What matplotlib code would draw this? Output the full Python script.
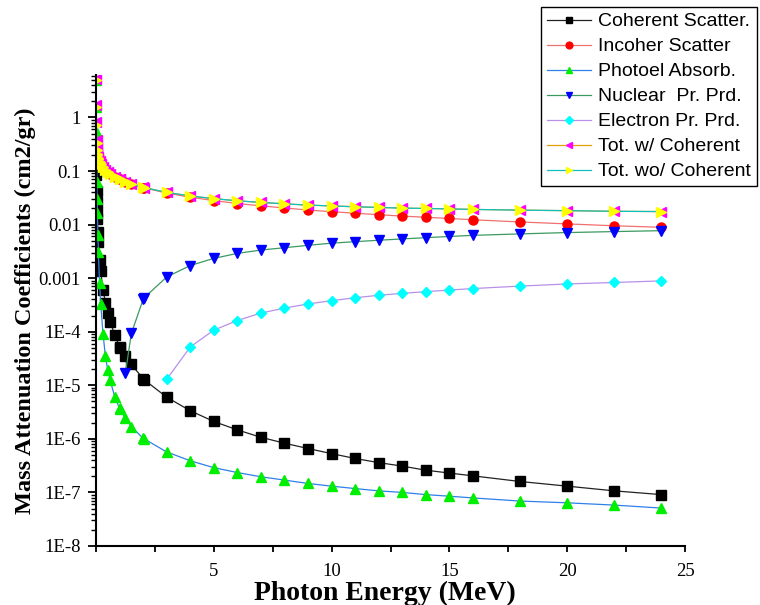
import numpy as np
import matplotlib
matplotlib.use("Agg")
from matplotlib import pyplot as plt
from matplotlib.ticker import FixedLocator, FuncFormatter, LogLocator, MultipleLocator, NullFormatter

nan = np.nan

# photon energies (MeV)
energy = [0.01, 0.015, 0.02, 0.03, 0.04, 0.05, 0.06, 0.08, 0.1, 0.15,
          0.2, 0.3, 0.4, 0.5, 0.6, 0.8, 1.0, 1.022, 1.25, 1.5,
          2.0, 2.044, 3, 4, 5, 6, 7, 8, 9, 10,
          11, 12, 13, 14, 15, 16, 18, 20, 22, 24]

# mass attenuation coefficients (cm2/gr)
coherent = [0.25, 0.135, 0.085, 0.043, 0.026, 0.0175, 0.0125, 0.0073, 0.0048, 0.0022,
            1.35e-3, 6.0e-4, 3.5e-4, 2.2e-4, 1.54e-4, 8.7e-5, 5.2e-5, 5.0e-5, 3.5e-5, 2.45e-5,
            1.33e-5, 1.27e-5, 6.0e-6, 3.35e-6, 2.11e-6, 1.47e-6, 1.07e-6, 8.3e-7, 6.6e-7, 5.3e-7,
            4.3e-7, 3.6e-7, 3.1e-7, 2.6e-7, 2.3e-7, 2.04e-7, 1.6e-7, 1.31e-7, 1.07e-7, 9.1e-8]
incoherent = [0.155, 0.168, 0.177, 0.184, 0.185, 0.182, 0.178, 0.171, 0.163, 0.148,
              0.1355, 0.118, 0.1057, 0.0967, 0.0894, 0.0786, 0.0706, 0.0698, 0.0632, 0.0575,
              0.0491, 0.0485, 0.0388, 0.0324, 0.0281, 0.0247, 0.0224, 0.0204, 0.0187, 0.0174,
              0.0163, 0.0153, 0.0144, 0.0137, 0.0130, 0.0123, 0.0112, 0.0103, 0.0095, 0.0089]
photoel = [4.9, 1.55, 0.56, 0.16, 0.062, 0.030, 0.0168, 0.0063, 0.0031, 8.0e-4,
           3.3e-4, 8.9e-5, 3.5e-5, 1.9e-5, 1.24e-5, 6.0e-6, 3.7e-6, 3.55e-6, 2.4e-6, 1.7e-6,
           1.02e-6, 1.0e-6, 5.7e-7, 3.9e-7, 2.9e-7, 2.35e-7, 1.96e-7, 1.7e-7, 1.47e-7, 1.31e-7,
           1.18e-7, 1.07e-7, 1.0e-7, 9.1e-8, 8.5e-8, 7.9e-8, 6.9e-8, 6.4e-8, 5.8e-8, 5.1e-8]
nuclear_pair = [nan, nan, nan, nan, nan, nan, nan, nan, nan, nan,
                nan, nan, nan, nan, nan, nan, nan, nan, 1.7e-5, 9.3e-5,
                4.0e-4, 4.3e-4, 1.05e-3, 1.72e-3, 2.34e-3, 2.9e-3, 3.35e-3, 3.7e-3, 4.1e-3, 4.5e-3,
                4.8e-3, 5.1e-3, 5.4e-3, 5.7e-3, 6.0e-3, 6.3e-3, 6.7e-3, 7.1e-3, 7.4e-3, 7.7e-3]
electron_pair = [nan, nan, nan, nan, nan, nan, nan, nan, nan, nan,
                 nan, nan, nan, nan, nan, nan, nan, nan, nan, nan,
                 nan, nan, 1.29e-5, 5.2e-5, 1.07e-4, 1.62e-4, 2.23e-4, 2.76e-4, 3.3e-4, 3.8e-4,
                 4.3e-4, 4.8e-4, 5.2e-4, 5.6e-4, 6.0e-4, 6.4e-4, 7.1e-4, 7.8e-4, 8.3e-4, 8.9e-4]
total_coh = [5.31, 1.69, 0.82, 0.38, 0.27, 0.228, 0.207, 0.185, 0.171, 0.151,
             0.137, 0.119, 0.106, 0.097, 0.0896, 0.0787, 0.0707, 0.0700, 0.0632, 0.0576,
             0.0495, 0.0490, 0.0399, 0.0342, 0.0305, 0.0278, 0.0259, 0.0244, 0.0231, 0.0223,
             0.0215, 0.0209, 0.0203, 0.0200, 0.0196, 0.0192, 0.0186, 0.0182, 0.0177, 0.0175]
total_nocoh = [5.06, 1.555, 0.735, 0.337, 0.244, 0.211, 0.195, 0.178, 0.166, 0.149,
               0.1356, 0.1184, 0.1057, 0.0968, 0.0894, 0.0786, 0.0706, 0.0699, 0.0632, 0.0576,
               0.0495, 0.0490, 0.0399, 0.0342, 0.0305, 0.0278, 0.0259, 0.0244, 0.0231, 0.0223,
               0.0215, 0.0209, 0.0203, 0.0200, 0.0196, 0.0192, 0.0186, 0.0182, 0.0177, 0.0175]

labels = ['Coherent Scatter.', 'Incoher Scatter', 'Photoel Absorb.', 'Nuclear  Pr. Prd.',
          'Electron Pr. Prd.', 'Tot. w/ Coherent', 'Tot. wo/ Coherent']

# (values, line colour, marker, marker colour)
series = [
    (coherent, '#222222', 's', 'black'),
    (incoherent, '#F07070', 'o', '#FF0000'),
    (photoel, '#2F80E8', '^', '#00EE00'),
    (nuclear_pair, '#3A9A60', 'v', '#0000FF'),
    (electron_pair, '#B890E8', 'D', '#00FFFF'),
    (total_coh, '#E0A000', '<', '#FF00FF'),
    (total_nocoh, '#10C0C0', '>', '#FFFF00'),
]

plt.rcParams['font.family'] = 'Liberation Serif'

fig = plt.figure(figsize=(7.6, 6.05), dpi=100)
ax = fig.add_axes([96 / 760, 1 - 546 / 605, (685 - 96) / 760, (546 - 75) / 605])

for (vals, lc, mk, mc), lab in zip(series, labels):
    ms = 5.5 if mk == 'D' else 6.5
    ax.plot(energy, vals, color=lc, lw=0.9, marker=mk, ms=ms,
            markerfacecolor=mc, markeredgecolor=mc, label=lab)

ax.set_yscale('log')
ax.set_xlim(0, 25)
ax.set_ylim(1e-8, 6.2)

# axis cosmetics
for side in ['top', 'right']:
    ax.spines[side].set_visible(False)
for side in ['left', 'bottom']:
    ax.spines[side].set_linewidth(1.5)

ax.xaxis.set_major_locator(FixedLocator([5, 10, 15, 20, 25]))
ax.xaxis.set_minor_locator(MultipleLocator(2.5))
ax.yaxis.set_major_locator(FixedLocator([10.0 ** k for k in range(-8, 1)]))
ax.yaxis.set_minor_locator(LogLocator(base=10, subs=np.arange(2, 10), numticks=20))
ax.yaxis.set_minor_formatter(NullFormatter())


def fmt_y(v, pos):
    k = int(round(np.log10(v)))
    if k >= -3:
        return '{:g}'.format(v)
    return '1E{}'.format(k)


ax.yaxis.set_major_formatter(FuncFormatter(fmt_y))

ax.tick_params(axis='both', which='major', direction='out', labelsize=13.5, width=1.3, color='black')
ax.tick_params(axis='x', which='major', length=4, pad=8)
ax.tick_params(axis='x', which='minor', length=4, width=1.3)
ax.tick_params(axis='y', which='major', length=6, pad=5)
ax.tick_params(axis='y', which='minor', length=3.5, width=1.0)

ax.set_xlabel('Photon Energy (MeV)', fontsize=20, fontweight='bold')
ax.xaxis.set_label_coords(0.49, -0.074)
ax.set_ylabel('Mass Attenuation Coefficients (cm2/gr)', fontsize=17.5, fontweight='bold', labelpad=2)

leg = ax.legend(loc='upper right', bbox_to_anchor=(757 / 760, 1 - 7 / 605),
                bbox_transform=fig.transFigure, borderaxespad=0,
                prop={'family': 'Liberation Sans', 'size': 14},
                fancybox=False, frameon=True, edgecolor='black', framealpha=1,
                handlelength=2.3, handletextpad=0.35, labelspacing=0.38,
                borderpad=0.3, markerscale=0.75)
leg.get_frame().set_linewidth(1.0)

fig.savefig('out.png', dpi=100)
